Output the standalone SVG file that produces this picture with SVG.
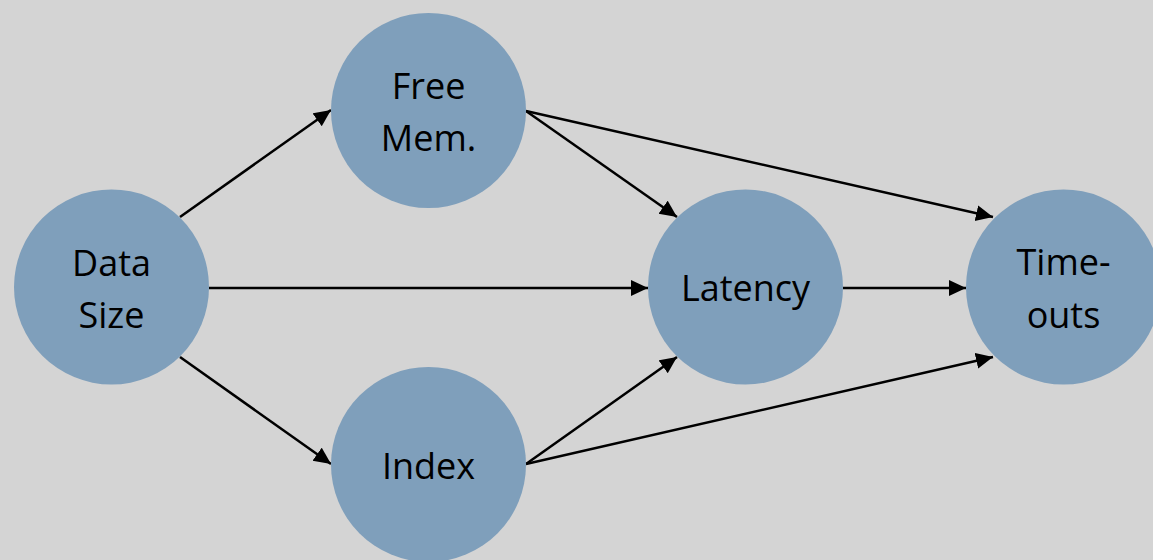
<svg xmlns="http://www.w3.org/2000/svg" width="1153" height="560" viewBox="0 0 1153 560">
<style>
.node{fill:#7f9fbb;}
.lbl{font-family:"Open Sans","Liberation Sans",sans-serif;font-size:36px;fill:#000;text-anchor:middle;}
.edge{stroke:#000;stroke-width:2.5;fill:none;marker-end:url(#ah);}
</style>
<defs>
<marker id="ah" markerUnits="userSpaceOnUse" markerWidth="20" markerHeight="18" refX="17" refY="8" orient="auto">
<path d="M0,0 L17,8 L0,16 Z" fill="#000"/>
</marker>
</defs>
<rect width="1153" height="560" fill="#d4d4d4"/>
<g id="connectors">
<line class="edge" x1="180" y1="217" x2="331" y2="110"/>
<line class="edge" x1="209" y1="288" x2="648" y2="288"/>
<line class="edge" x1="180" y1="357" x2="331" y2="464"/>
<line class="edge" x1="526" y1="111" x2="677" y2="217"/>
<line class="edge" x1="526" y1="111" x2="993" y2="217"/>
<line class="edge" x1="843" y1="288" x2="966" y2="288"/>
<line class="edge" x1="526" y1="464" x2="677" y2="357"/>
<line class="edge" x1="526" y1="464" x2="993" y2="357"/>
</g>
<g id="data-size">
<circle class="node" cx="111.5" cy="287" r="97.5"/>
<text class="lbl" x="111.5" y="276">Data</text>
<text class="lbl" x="111.5" y="328">Size</text>
</g>
<g id="free-mem">
<circle class="node" cx="428.5" cy="110.5" r="97.5"/>
<text class="lbl" x="428.5" y="98.5">Free</text>
<text class="lbl" x="428.5" y="150.5">Mem.</text>
</g>
<g id="index">
<circle class="node" cx="428.5" cy="464.5" r="97.5"/>
<text class="lbl" x="428.5" y="478.5">Index</text>
</g>
<g id="latency">
<circle class="node" cx="745.5" cy="287" r="97.5"/>
<text class="lbl" x="745.5" y="301">Latency</text>
</g>
<g id="time-outs">
<circle class="node" cx="1063.5" cy="287" r="97.5"/>
<text class="lbl" x="1063.5" y="275">Time-</text>
<text class="lbl" x="1063.5" y="328">outs</text>
</g>
</svg>
